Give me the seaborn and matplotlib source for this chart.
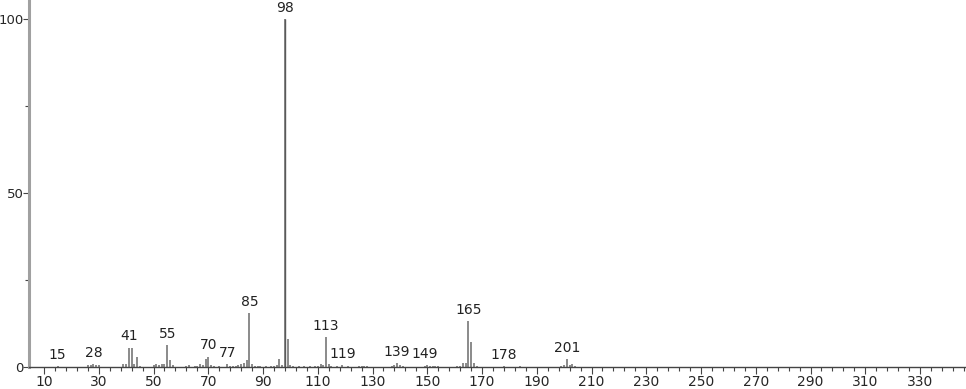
import numpy as np
import matplotlib
matplotlib.use("Agg")
import matplotlib.pyplot as plt
import seaborn as sns
import pandas as pd

# m/z values and relative intensities
mz = [15, 26, 27, 28, 29, 30, 39, 40, 41, 42, 43, 44, 45, 50, 51, 52, 53, 54, 55, 56, 57,
      62, 63, 65, 66, 67, 68, 69, 70, 71, 72, 74, 77, 78, 79, 80, 81, 82, 83, 84, 85, 86,
      87, 88, 89, 91, 93, 94, 95, 96, 97, 98, 99, 100, 101, 103, 105, 107, 109, 110, 111,
      112, 113, 114, 115, 117, 119, 121, 125, 126, 127, 128, 137, 138, 139, 140, 141,
      149, 150, 151, 152, 153, 154, 161, 162, 163, 164, 165, 166, 167, 168, 178, 184,
      199, 200, 201, 202, 203, 204]
intensity = [0.3, 0.5, 0.7, 0.8, 0.7, 0.6, 0.9, 0.8, 5.6, 5.4, 1.0, 3.0, 0.4, 0.6, 1.0, 0.5, 1.0, 0.9, 6.3, 2.0, 0.6,
             0.4, 0.5, 0.4, 0.4, 1.0, 0.6, 2.3, 3.0, 0.6, 0.4, 0.3, 0.8, 0.4, 0.4, 0.3, 0.5, 0.8, 1.1, 1.9, 15.6, 0.8,
             0.4, 0.3, 0.3, 0.4, 0.4, 0.3, 0.5, 2.3, 0.5, 100.0, 8.0, 0.6, 0.3, 0.3, 0.3, 0.3, 0.3, 0.4, 1.0,
             0.5, 8.5, 1.0, 0.4, 0.3, 0.5, 0.3, 0.3, 0.3, 0.4, 0.3, 0.4, 0.6, 1.2, 0.6, 0.3,
             0.4, 0.5, 0.4, 0.4, 0.3, 0.3, 0.3, 0.4, 1.2, 1.2, 13.3, 7.1, 1.1, 0.3, 0.3, 0.3,
             0.4, 0.5, 2.3, 0.5, 1.0, 0.4]

labeled = [15, 28, 41, 55, 70, 77, 85, 98, 113, 119, 139, 149, 165, 178, 201]

xticks_major = list(range(10, 331, 20))
yticks_major = [0, 50, 100]
yticks_minor = [25, 75]

df = pd.DataFrame({"mz": mz, "intensity": intensity})

sns.set_style("white")
plt.rcParams["font.family"] = ["DejaVu Sans"]

fig = plt.figure(figsize=(9.66, 3.89), dpi=100)
ax = fig.add_axes([29 / 966, 22 / 389, 1 - 29 / 966, 1 - 22 / 389])

ax.vlines(df["mz"], 0, df["intensity"], color="#8a8a8a", linewidth=1.4)
# strongest peak drawn darker
big = df[df["intensity"] >= 99]
ax.vlines(big["mz"], 0, big["intensity"], color="#5a5a5a", linewidth=1.0)

lookup = dict(zip(mz, intensity))
for m in labeled:
    ax.annotate(str(m), (m, lookup[m]), xytext=(0, 3), textcoords="offset points",
                ha="center", va="bottom", fontsize=10, color="#222222")

ax.set_xlim(4.5, 346.8)
ax.set_ylim(0, 105.5)
ax.set_xticks(xticks_major)
ax.set_xticks(np.arange(10, 347, 4), minor=True)
ax.set_yticks(yticks_major)
ax.set_yticks(yticks_minor, minor=True)
ax.tick_params(axis="x", which="major", direction="out", length=5, width=0.8, color="#444444",
               labelsize=10, pad=1, bottom=True)
ax.tick_params(axis="x", which="minor", direction="out", length=3, width=0.8, color="#444444", bottom=True)
ax.tick_params(axis="y", which="major", direction="out", length=4, width=0.8, color="#444444",
               labelsize=9.5, pad=0, left=True)
ax.tick_params(axis="y", which="minor", direction="out", length=3, width=0.8, color="#444444", left=True)

sns.despine(ax=ax, top=True, right=True)
ax.spines["left"].set_color("#a0a0a0")
ax.spines["left"].set_linewidth(2.2)
ax.spines["bottom"].set_color("#444444")
ax.spines["bottom"].set_linewidth(1.0)
ax.set_xlabel("")
ax.set_ylabel("")

fig.savefig("out.png", dpi=100)
